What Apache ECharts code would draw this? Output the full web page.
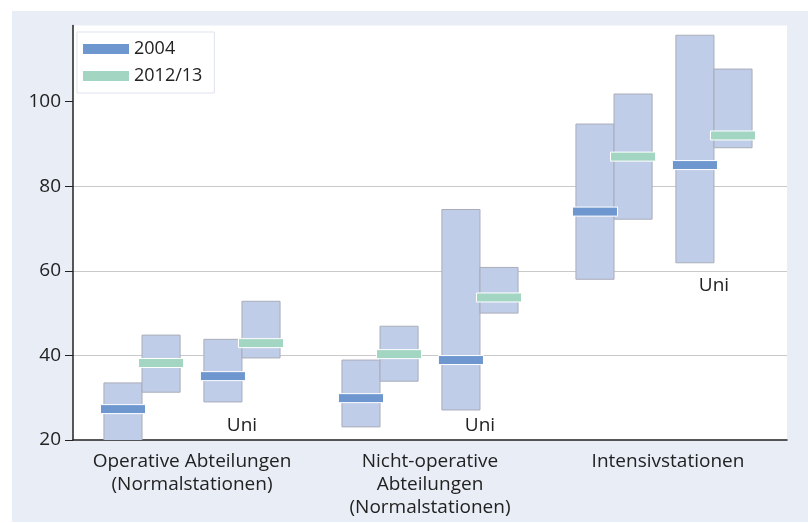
<!DOCTYPE html>
<html>
<head>
<meta charset="utf-8">
<script src="https://cdn.jsdelivr.net/npm/echarts@6/dist/echarts.min.js"></script>
<style>
  html, body { margin: 0; padding: 0; background: #fff; }
  #bg { position: absolute; left: 12px; top: 11px; width: 796px; height: 511px; background: #e9edf6; }
  #main { position: absolute; left: 0; top: 0; width: 808px; height: 523px; }
</style>
</head>
<body>
<div id="bg"></div>
<div id="main"></div>
<script>
// Kategorien
var categories = [
  'Operative Abteilungen\n(Normalstationen)',
  'Nicht-operative\nAbteilungen\n(Normalstationen)',
  'Intensivstationen'
];
// je Kategorie zwei Boxen: [normal, Uni]
var min2004 = [18, 29, 23.1, 27.1, 58, 61.9];
var max2004 = [33.5, 43.8, 38.9, 74.5, 94.7, 115.7];
var med2004 = [27.3, 35.1, 29.9, 38.9, 74, 85];
var min2012 = [31.3, 39.4, 33.9, 50, 72.2, 89.1];
var max2012 = [44.8, 52.8, 46.9, 60.8, 101.8, 107.7];
var med2012 = [38.2, 42.9, 40.3, 53.7, 87, 92];
var uniLabelY = [23.5, 23.5, 56.5];
var yTicks = [20, 40, 60, 80, 100];

var fontFam = '"Open Sans", "Noto Sans", sans-serif';
// Versatz der Boxmitten relativ zur Kategoriemitte (Anteil der Bandbreite)
var offsets = {
  '2004': [-0.29, 0.13],
  '2012/13': [-0.13, 0.29]
};
// kleine Verschiebung je Gruppe in px (Intensivstationen etwas nach links)
var groupShift = [0, 0, -4];
var colors = { '2004': '#6f97cf', '2012/13': '#a3d6c2' };

function buildData(mins, maxs, meds) {
  var out = [];
  for (var i = 0; i < mins.length; i++) {
    out.push([Math.floor(i / 2), i % 2, mins[i], maxs[i], meds[i]]);
  }
  return out;
}

function centerX(api, name) {
  var band = api.size([1, 0])[0];
  var g = api.value(0);
  return api.coord([g, 0])[0] + offsets[name][api.value(1)] * band + groupShift[g];
}

function boxRenderer(name) {
  return function(params, api) {
    var band = api.size([1, 0])[0];
    var cx = centerX(api, name);
    var w = band * 0.16;
    var top = api.coord([api.value(0), api.value(3)])[1];
    var bot = api.coord([api.value(0), api.value(2)])[1];
    return {
      type: 'rect',
      shape: { x: cx - w / 2, y: top, width: w, height: bot - top },
      style: { fill: '#c0cde9', stroke: '#a9adb8', lineWidth: 1 }
    };
  };
}

function medRenderer(name) {
  return function(params, api) {
    var band = api.size([1, 0])[0];
    var cx = centerX(api, name);
    var w = band * 0.16 + 7;
    var y = api.coord([api.value(0), api.value(4)])[1];
    return {
      type: 'rect',
      shape: { x: cx - w / 2, y: y - 4.5, width: w, height: 9 },
      style: { fill: colors[name], stroke: '#fff', lineWidth: 1 }
    };
  };
}

var chart = echarts.init(document.getElementById('main'));
chart.setOption({
  animation: false,
  grid: {
    left: 73, top: 25.5, right: 21, bottom: 83,
    show: true, backgroundColor: '#fff', borderWidth: 0
  },
  legend: {
    left: 77, top: 32,
    orient: 'vertical',
    data: ['2004', '2012/13'],
    icon: 'rect',
    itemWidth: 46, itemHeight: 10, itemGap: 7,
    padding: [7, 12, 7, 6],
    backgroundColor: '#fff',
    borderColor: '#dde3ef', borderWidth: 1,
    textStyle: { fontFamily: fontFam, fontSize: 18, color: '#222', lineHeight: 20 }
  },
  xAxis: {
    type: 'category',
    data: categories,
    axisLine: { lineStyle: { color: '#222', width: 1.5 } },
    axisTick: { length: 7, interval: 0, lineStyle: { color: '#222' } },
    axisLabel: { interval: 0, hideOverlap: false, fontFamily: fontFam, fontSize: 19, color: '#222', lineHeight: 23, margin: 10 }
  },
  yAxis: {
    type: 'value',
    min: 20, max: 118, interval: 20,
    axisLine: { show: true, lineStyle: { color: '#222', width: 1.5 } },
    axisTick: { show: true, length: 8, lineStyle: { color: '#222' }, customValues: yTicks },
    axisLabel: { fontFamily: fontFam, fontSize: 19, color: '#222', margin: 12, customValues: yTicks },
    splitLine: { show: true, showMaxLine: false, showMinLine: false, lineStyle: { color: '#c9c9c9' } }
  },
  series: [
    {
      type: 'custom', name: 'box2004', clip: true, z: 2,
      renderItem: boxRenderer('2004'),
      data: buildData(min2004, max2004, med2004)
    },
    {
      type: 'custom', name: 'box2012', clip: true, z: 2,
      renderItem: boxRenderer('2012/13'),
      data: buildData(min2012, max2012, med2012)
    },
    {
      type: 'custom', name: '2004', z: 3,
      itemStyle: { color: colors['2004'] },
      renderItem: medRenderer('2004'),
      data: buildData(min2004, max2004, med2004)
    },
    {
      type: 'custom', name: '2012/13', z: 3,
      itemStyle: { color: colors['2012/13'] },
      renderItem: medRenderer('2012/13'),
      data: buildData(min2012, max2012, med2012)
    },
    {
      type: 'custom', name: 'uni', z: 3,
      renderItem: function(params, api) {
        var band = api.size([1, 0])[0];
        var g = api.value(0);
        var p = api.coord([g, api.value(1)]);
        return {
          type: 'text',
          x: p[0] + 0.21 * band + groupShift[g], y: p[1],
          style: {
            text: 'Uni', fill: '#222', font: '19px ' + fontFam,
            textAlign: 'center', textVerticalAlign: 'middle'
          }
        };
      },
      data: uniLabelY.map(function(v, i) { return [i, v]; })
    }
  ]
});
</script>
</body>
</html>
